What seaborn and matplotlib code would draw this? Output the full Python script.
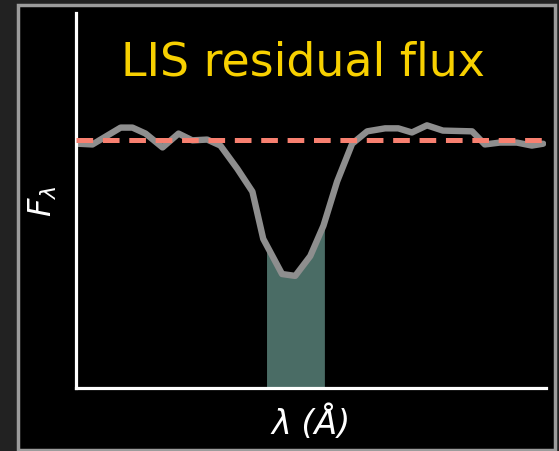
import numpy as np
import pandas as pd
import matplotlib
matplotlib.use("Agg")
import matplotlib.pyplot as plt
from matplotlib.patches import Rectangle
import seaborn as sns

# ---- data ----
wavelength = [0.4, 3.6, 9.6, 12.1, 14.9, 18.5, 21.9, 24.8, 28.0, 30.8, 34.4, 37.6,
              39.9, 43.9, 46.7, 49.9, 52.7, 55.6, 58.8, 62.0, 65.8, 68.6, 71.5,
              74.7, 78.1, 84.3, 87.0, 90.2, 93.8, 97.0, 99.4]
flux = [0.651, 0.649, 0.694, 0.694, 0.678, 0.641, 0.678, 0.660, 0.662, 0.646, 0.584,
        0.523, 0.397, 0.303, 0.298, 0.351, 0.432, 0.550, 0.651, 0.684, 0.692, 0.692,
        0.681, 0.700, 0.686, 0.684, 0.649, 0.654, 0.654, 0.646, 0.651]
continuum = 0.660
fill_range = [40.6, 52.9]
title_text = "LIS residual flux"
xlabel_text = "λ (Å)"
ylabel_text = r"$F_\lambda$"

df = pd.DataFrame({"wavelength": wavelength, "flux": flux})

sns.set_style("dark")
plt.rcParams['font.family'] = ['DejaVu Sans']

W, H = 559, 452
fig = plt.figure(figsize=(W / 100, H / 100), dpi=100)
fig.patch.set_facecolor("#222222")

# black panel with gray frame
fig.patches.append(Rectangle((17.5 / W, 1 - 450.5 / H), (554.5 - 17.5) / W, (450.5 - 5.5) / H,
                             transform=fig.transFigure, facecolor="black",
                             edgecolor="#9c9c9c", linewidth=2.5, zorder=-10))

ax = fig.add_axes([75.5 / W, 1 - 388.5 / H, (546 - 75.5) / W, (388.5 - 14) / H])
ax.set_zorder(1)
ax.patch.set_alpha(0)

# shaded region under the curve
xf = np.concatenate([[fill_range[0]],
                     [w for w in wavelength if fill_range[0] < w < fill_range[1]],
                     [fill_range[1]]])
yf = np.interp(xf, wavelength, flux)
ax.fill_between(xf, 0, yf, color="#4a6c65", linewidth=0, zorder=1)

sns.lineplot(data=df, x="wavelength", y="flux", ax=ax, color="#8e8e8e",
             linewidth=4.6, zorder=2)
ax.axhline(continuum, xmin=0.0, xmax=1.0, color="#f88070", linewidth=3.6,
           dashes=(12 / 3.6, 7 / 3.6), zorder=3)

ax.set_xlim(0, 100)
ax.set_ylim(0, 1)
ax.set_xticks([])
ax.set_yticks([])
ax.grid(False)

for side in ["top", "right"]:
    ax.spines[side].set_visible(False)
for side in ["left", "bottom"]:
    ax.spines[side].set_visible(True)
    ax.spines[side].set_color("white")
    ax.spines[side].set_linewidth(2.3)
    ax.spines[side].set_capstyle("projecting")

ax.set_xlabel(xlabel_text, color="white", fontsize=24, style="italic", labelpad=12)
ax.set_ylabel(ylabel_text, color="white", fontsize=23, labelpad=12)

fig.text(303 / W, 1 - 63 / H, title_text, color="#f7d000", fontsize=33,
         ha="center", va="center")

fig.savefig("out.png", dpi=100, facecolor=fig.get_facecolor())
